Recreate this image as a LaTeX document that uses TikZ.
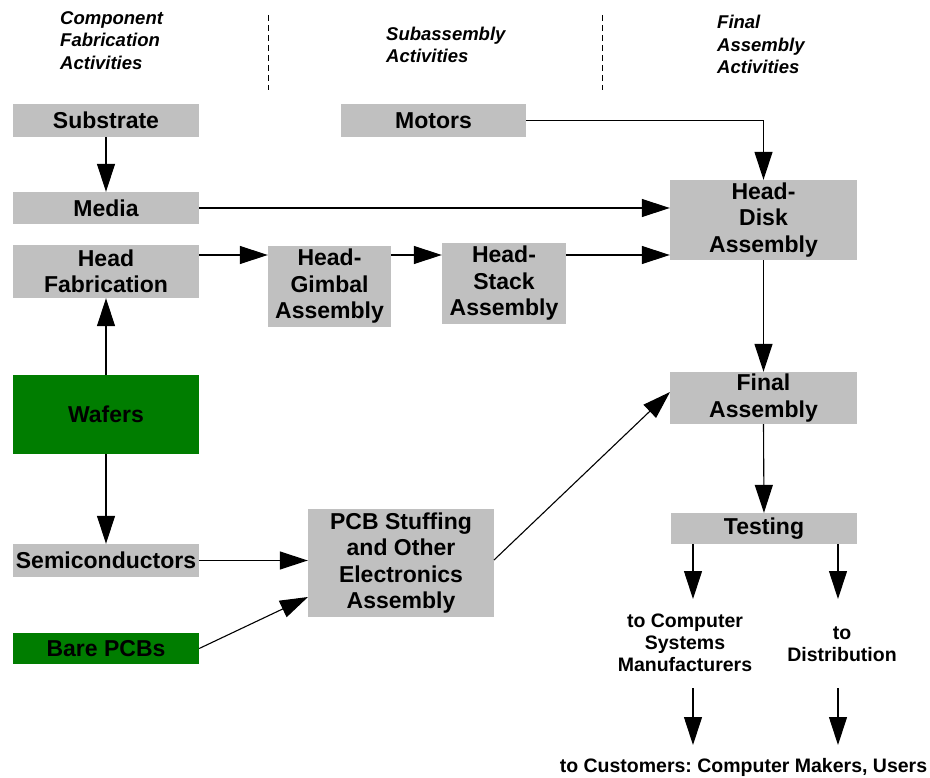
\documentclass[tikz,border=0pt]{standalone}
\usepackage{fontspec}
\setmainfont{Liberation Sans}
\frenchspacing
\usetikzlibrary{arrows.meta}
\definecolor{boxgray}{RGB}{192,192,192}
\definecolor{boxgreen}{RGB}{0,125,0}
\tikzset{
  box/.style={fill=boxgray, inner sep=0pt, align=center,
    font=\fontsize{23}{26.5}\selectfont\bfseries},
  greenbox/.style={box, fill=boxgreen},
  flow/.style={line width=1.1pt, -{Triangle[length=28pt,width=18pt]}},
  header/.style={inner sep=0pt, align=left, anchor=west,
    font=\fontsize{18.5}{22.5}\selectfont\bfseries\itshape},
  outlabel/.style={inner sep=0pt, align=center,
    font=\fontsize{19.5}{22}\selectfont\bfseries},
  divider/.style={line width=1pt, dash pattern=on 6pt off 4pt}
}
\begin{document}
\begin{tikzpicture}[x=1pt,y=-1pt]
\useasboundingbox (0,0) rectangle (930,778);

% column headers and dividers
\node[header] (hcomp) at (60,40.5) {Component\\Fabrication\\Activities};
\node[header] (hsub) at (386,45) {Subassembly\\Activities};
\node[header] (hfin) at (717,44.5) {Final\\Assembly\\Activities};
\coordinate (d1a) at (268,15); \coordinate (d1b) at (268,90);
\coordinate (d2a) at (602,15); \coordinate (d2b) at (602,90);
\draw[divider] (d1a) -- (d1b);
\draw[divider] (d2a) -- (d2b);

% component fabrication column
\node[box, minimum width=186pt, minimum height=33pt] (sub) at (106,120.5) {Substrate};
\node[box, minimum width=186pt, minimum height=32pt] (med) at (106,208) {Media};
\node[box, minimum width=186pt, minimum height=53pt] (hf) at (106,271.5) {Head\\Fabrication};
\node[greenbox, minimum width=186pt, minimum height=79pt] (waf) at (106,414.5) {Wafers};
\node[box, minimum width=186pt, minimum height=33pt] (semi) at (106,560.5) {Semiconductors};
\node[greenbox, minimum width=186pt, minimum height=31pt] (bpcb) at (106,648.5) {Bare PCBs};

% subassembly column
\node[box, minimum width=185pt, minimum height=33pt] (mot) at (433.5,120.5) {Motors};
\node[box, minimum width=123pt, minimum height=81pt] (hga) at (329.5,286.5) {Head-\\Gimbal\\Assembly};
\node[box, minimum width=124pt, minimum height=81pt] (hsa) at (504,283.5) {Head-\\Stack\\Assembly};
\node[box, minimum width=186pt, minimum height=108pt] (pcb) at (401,563) {PCB Stuffing\\and Other\\Electronics\\Assembly};

% final assembly column
\node[box, minimum width=187pt, minimum height=80pt] (hda) at (763.5,220) {Head-\\Disk\\Assembly};
\node[box, minimum width=187pt, minimum height=52pt] (fa) at (763.5,398) {Final\\Assembly};
\node[box, minimum width=186pt, minimum height=31pt] (tst) at (764,528.5) {Testing};

% destinations
\node[outlabel] (csm) at (685,643) {to Computer\\Systems\\Manufacturers};
\node[outlabel] (dist) at (842,644) {to\\Distribution};
\node[outlabel] (cust) at (743.5,767) {to Customers: Computer Makers, Users};

% helper points on the connectors
\coordinate (r1) at (0,255);
\coordinate (fin) at (670,392);
\coordinate (pcbout) at (494,560);
\coordinate (pcbin) at (308,597);
\coordinate (t1) at (693,599);
\coordinate (t2) at (838,599);
\coordinate (l1a) at (693,688); \coordinate (l1b) at (693,745);
\coordinate (l2a) at (838,688); \coordinate (l2b) at (838,745);

% connectors
\draw[flow] (sub) -- (med);
\draw[flow] (med.east) -- (hda.west |- med.east);
\draw[flow] (hf.east |- r1) -- (hga.west |- r1);
\draw[flow] (hga.east |- r1) -- (hsa.west |- r1);
\draw[flow] (hsa.east |- r1) -- (hda.west |- r1);
\draw[flow] (mot.east) -| (hda.north);
\draw[flow] (waf.north) -- (hf.south);
\draw[flow] (waf.south) -- (semi.north);
\draw[flow] (semi.east) -- (pcb.west |- semi.east);
\draw[flow] (bpcb.east) -- (pcbin);
\draw[flow] (pcbout) -- (fin);
\draw[flow] (hda.south -| fa.north) -- (fa.north);
\draw[flow] (fa.south) -- (tst.south |- tst.north);
\draw[flow] (tst.south -| t1) -- (t1);
\draw[flow] (tst.south -| t2) -- (t2);
\draw[flow] (l1a) -- (l1b);
\draw[flow] (l2a) -- (l2b);
\end{tikzpicture}
\end{document}
